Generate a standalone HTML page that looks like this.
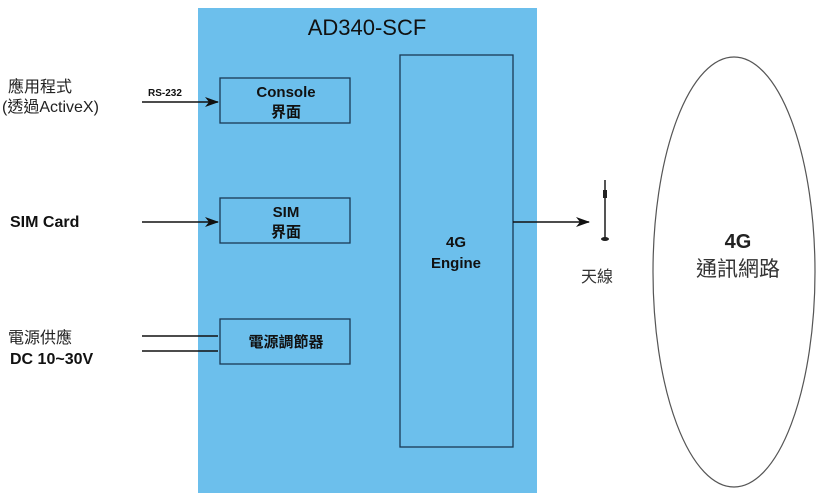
<!DOCTYPE html>
<html><head><meta charset="utf-8"><style>
body{margin:0;background:#fff;}
svg text{font-family:"Liberation Sans","Noto Sans CJK TC",sans-serif;}
</style></head><body>
<svg width="823" height="499" viewBox="0 0 823 499">
<defs><marker id="a" markerWidth="14" markerHeight="10" refX="13" refY="5" orient="auto" markerUnits="userSpaceOnUse"><path d="M0,0 L14,5 L0,10 L4,5 Z" fill="#111"/></marker></defs>
<rect x="198" y="8" width="339" height="485" fill="#6cbfec"/>
<text x="367" y="35" font-size="22" text-anchor="middle" fill="#111">AD340-SCF</text>
<g fill="none" stroke="#1a3a55" stroke-width="1.3">
<rect x="220" y="78" width="130" height="45"/>
<rect x="220" y="198" width="130" height="45"/>
<rect x="220" y="319" width="130" height="45"/>
<rect x="400" y="55" width="113" height="392"/>
</g>
<g font-weight="bold" fill="#111" text-anchor="middle" font-size="15">
<text x="286" y="97">Console</text><text x="286" y="117">界面</text>
<text x="286" y="217">SIM</text><text x="286" y="237">界面</text>
<text x="286" y="347">電源調節器</text>
<text x="456" y="247">4G</text><text x="456" y="268">Engine</text>
</g>
<g stroke="#111" stroke-width="1.6" fill="none">
<line x1="142" y1="102" x2="218" y2="102" marker-end="url(#a)"/>
<line x1="142" y1="222" x2="218" y2="222" marker-end="url(#a)"/>
<line x1="142" y1="336" x2="218" y2="336"/>
<line x1="142" y1="351" x2="218" y2="351"/>
<line x1="513" y1="222" x2="589" y2="222" marker-end="url(#a)"/>
</g>
<text x="148" y="96" font-size="10" font-weight="bold" fill="#111">RS-232</text>
<g fill="#222" font-size="16">
<text x="8" y="92">應用程式</text>
<text x="2" y="112">(透過ActiveX)</text>
<text x="8" y="343">電源供應</text>
</g>
<g fill="#111" font-size="16" font-weight="bold">
<text x="10" y="227">SIM Card</text>
<text x="10" y="364">DC 10~30V</text>
</g>
<line x1="605" y1="180" x2="605" y2="238" stroke="#555" stroke-width="2"/>
<rect x="603" y="190" width="4" height="8" fill="#222"/>
<ellipse cx="605" cy="239" rx="4" ry="2" fill="#222"/>
<text x="597" y="282" font-size="16" fill="#333" text-anchor="middle">天線</text>
<ellipse cx="734" cy="272" rx="81" ry="215" fill="none" stroke="#555" stroke-width="1.2"/>
<text x="738" y="248" font-size="20" font-weight="bold" fill="#222" text-anchor="middle">4G</text>
<text x="738" y="276" font-size="21" fill="#333" text-anchor="middle">通訊網路</text>
</svg>
</body></html>
